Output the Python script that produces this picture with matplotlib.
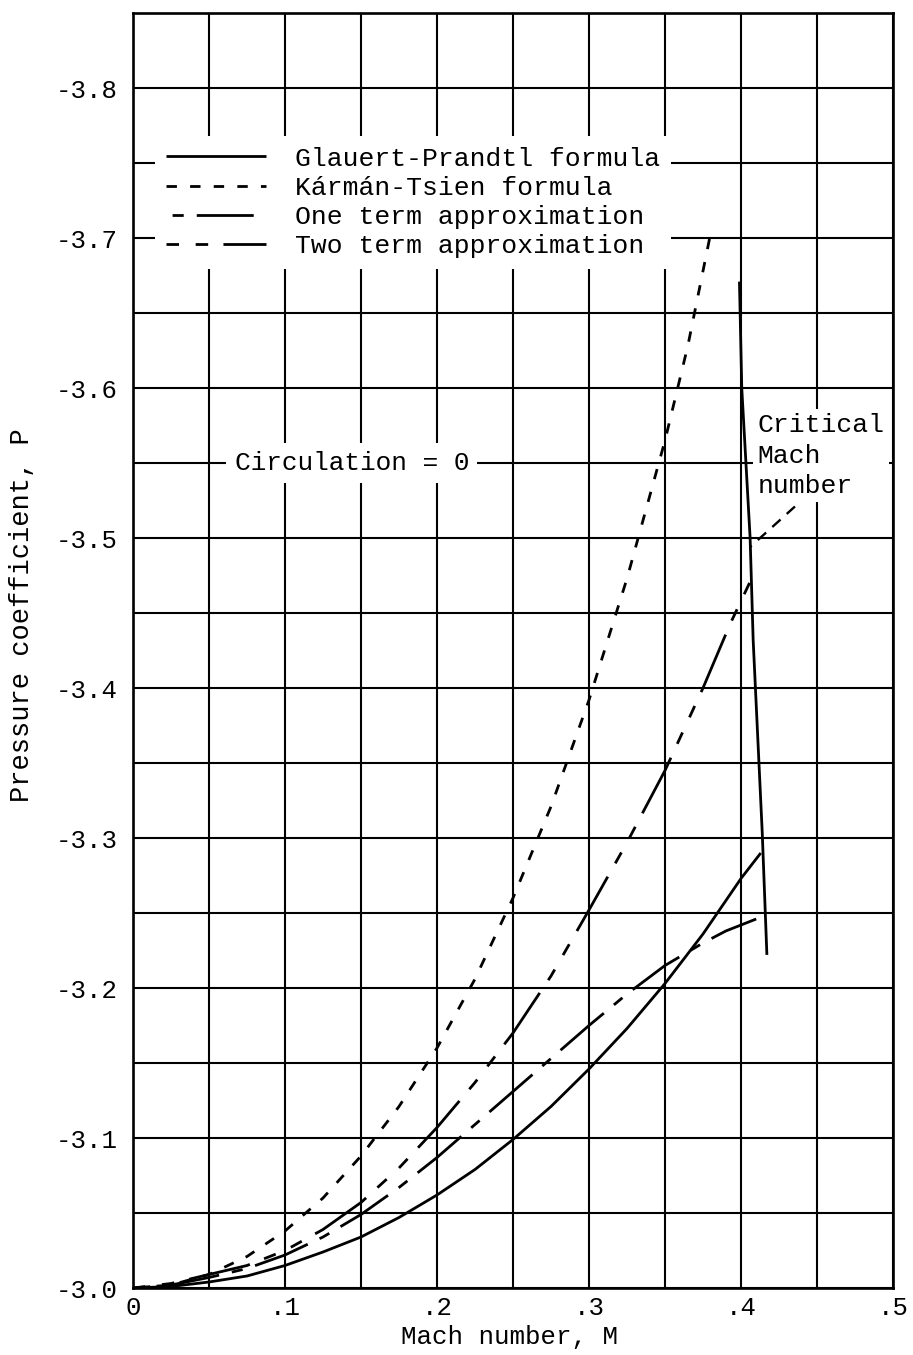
import matplotlib
matplotlib.use("Agg")
import matplotlib.pyplot as plt
import numpy as np

plt.rcParams['font.family'] = ['Liberation Mono', 'DejaVu Sans Mono']
plt.rcParams['lines.scale_dashes'] = False

# ---- data ----
gp_M = [0, 0.025, 0.05, 0.075, 0.1, 0.125, 0.15, 0.175, 0.2, 0.225, 0.25, 0.275,
        0.3, 0.325, 0.35, 0.375, 0.4, 0.413]
gp_P = [-3.0, -3.001, -3.004, -3.008, -3.015, -3.024, -3.034, -3.047, -3.062, -3.079,
        -3.099, -3.121, -3.146, -3.173, -3.203, -3.236, -3.273, -3.29]

kt_M = [0, 0.025, 0.05, 0.075, 0.1, 0.125, 0.15, 0.175, 0.2, 0.225, 0.25, 0.275,
        0.3, 0.325, 0.35, 0.365, 0.38]
kt_P = [-3.0, -3.002, -3.009, -3.021, -3.038, -3.06, -3.088, -3.121, -3.160, -3.206,
        -3.26, -3.321, -3.392, -3.473, -3.565, -3.628, -3.703]

one_M = [0, 0.025, 0.05, 0.075, 0.1, 0.125, 0.15, 0.175, 0.2, 0.225, 0.25, 0.275,
         0.3, 0.325, 0.35, 0.375, 0.39, 0.41]
one_P = [-3.0, -3.002, -3.007, -3.013, -3.022, -3.034, -3.049, -3.067, -3.087, -3.109,
         -3.131, -3.153, -3.175, -3.196, -3.215, -3.23, -3.238, -3.246]

two_M = [0, 0.025, 0.05, 0.075, 0.1, 0.125, 0.15, 0.175, 0.2, 0.225, 0.25, 0.275,
         0.3, 0.325, 0.35, 0.375, 0.393, 0.407]
two_P = [-3.0, -3.003, -3.009, -3.015, -3.025, -3.039, -3.057, -3.08, -3.107, -3.137,
         -3.170, -3.208, -3.252, -3.297, -3.345, -3.40, -3.443, -3.473]

crit_M = [0.399, 0.4005, 0.406, 0.408, 0.414, 0.417]
crit_P = [-3.67, -3.60, -3.50, -3.432, -3.303, -3.223]

leader_M = [0.4355, 0.406]
leader_P = [-3.521, -3.494]

x_major = [0, 0.1, 0.2, 0.3, 0.4, 0.5]
x_labels = ['0', '.1', '.2', '.3', '.4', '.5']
y_major = [-3.0, -3.1, -3.2, -3.3, -3.4, -3.5, -3.6, -3.7, -3.8]
y_labels = ['-3.0', '-3.1', '-3.2', '-3.3', '-3.4', '-3.5', '-3.6', '-3.7', '-3.8']

labels = ['Glauert-Prandtl formula', 'Kármán-Tsien formula',
          'One term approximation', 'Two term approximation']

# ---- figure ----
W, H = 913, 1355
fig = plt.figure(figsize=(W / 100, H / 100), dpi=100)
ax = fig.add_axes([133 / W, 1 - 1288 / H, (893 - 133) / W, (1288 - 13) / H])

ax.set_xlim(0, 0.5)
ax.set_ylim(-3.0, -3.85)

ax.set_xticks(x_major)
ax.set_xticklabels(x_labels)
ax.set_xticks(np.arange(0.05, 0.5, 0.1), minor=True)
ax.set_yticks(y_major)
ax.set_yticklabels(y_labels)
ax.set_yticks(np.arange(-3.05, -3.86, -0.1), minor=True)

ax.grid(True, which='both', color='black', linewidth=1.5, zorder=0)
ax.set_axisbelow(True)
ax.tick_params(which='both', length=0, labelsize=18.5, colors='black')
ax.tick_params(axis='y', pad=11)
ax.tick_params(axis='x', pad=6)
for s in ax.spines.values():
    s.set_linewidth(1.9)
    s.set_color('black')

lw = 2.0
l1, = ax.plot(gp_M, gp_P, color='black', lw=lw, solid_capstyle='butt', zorder=3)
l2, = ax.plot(kt_M, kt_P, color='black', lw=lw, linestyle=(0, (7.5, 9.5)), zorder=3)
l3, = ax.plot(one_M, one_P, color='black', lw=lw,
              linestyle=(63.4, (8, 9.4, 41, 9.4)), zorder=3)
l4, = ax.plot(two_M, two_P, color='black', lw=lw,
              linestyle=(0, (9, 12, 9, 11, 45, 11)), zorder=3)
ax.plot(crit_M, crit_P, color='black', lw=lw, zorder=3)
ax.plot(leader_M, leader_P, color='black', lw=1.7, linestyle=(0, (8, 6)), zorder=3)

leg = ax.legend([l1, l2, l3, l4], labels, loc='upper left',
                bbox_to_anchor=(155 / W, 1 - 136 / H), bbox_transform=fig.transFigure,
                borderaxespad=0, borderpad=0.4, handlelength=3.8, handletextpad=1.1,
                labelspacing=0.2, fontsize=19, frameon=True, fancybox=False)
leg.get_frame().set_facecolor('white')
leg.get_frame().set_edgecolor('none')
leg.get_frame().set_alpha(1)
leg.set_zorder(5)

ax.text(0.144, -3.55, 'Circulation = 0', fontsize=18.8, ha='center', va='center',
        zorder=4, bbox=dict(facecolor='white', edgecolor='none', pad=6))
ax.text(0.411, -3.583, 'Critical\nMach\nnumber', fontsize=19, ha='left', va='top',
        linespacing=1.33, zorder=4,
        bbox=dict(facecolor='white', edgecolor='none', pad=3))

fig.text(509 / W, 1 - 1337 / H, 'Mach number, M', fontsize=18.5, ha='center', va='center')
fig.text(22 / W, 1 - 615 / H, 'Pressure coefficient, P', fontsize=19.5, ha='center',
         va='center', rotation=90)

fig.savefig('out.png', dpi=100, facecolor='white')
